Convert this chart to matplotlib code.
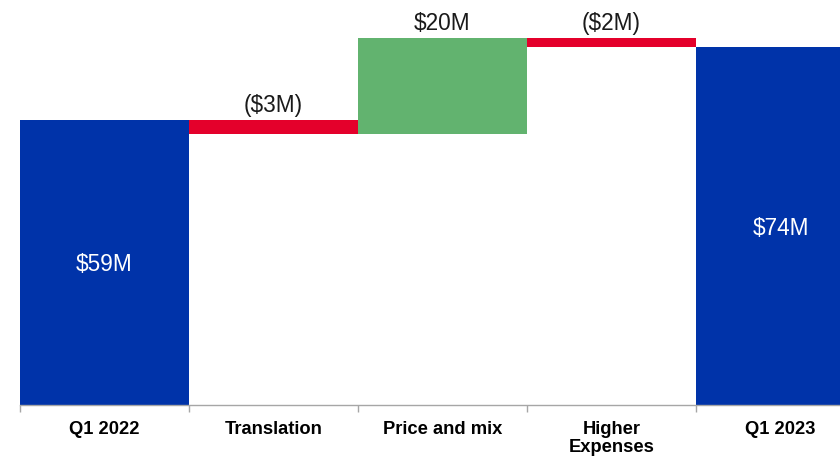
import matplotlib
matplotlib.use('Agg')
import matplotlib.pyplot as plt
import numpy as np

# waterfall data ($M)
categories = ['Q1 2022', 'Translation', 'Price and mix', 'Higher\nExpenses', 'Q1 2023']
values = [59, -3, 20, -2, 74]
is_total = [True, False, False, False, True]
value_labels = ['$59M', '($3M)', '$20M', '($2M)', '$74M']

blue = '#0033A9'
red = '#E4002B'
green = '#62B36F'

plt.rcParams['font.family'] = ['Liberation Sans', 'DejaVu Sans']

fig = plt.figure(figsize=(8.4, 4.58), dpi=100)
# axes runs a bit past the right edge of the figure, last bar is cut
ax = fig.add_axes([20/840, 53/458, 845/840, 405/458])

# compute bar bottoms / heights
running = 0
bottoms = []
heights = []
colors = []
for v, tot in zip(values, is_total):
   if tot:
      bottoms.append(0)
      heights.append(v)
      colors.append(blue)
      running = v
   else:
      start = running
      running = running + v
      bottoms.append(min(start, running))
      heights.append(abs(v))
      colors.append(green if v > 0 else red)

x = np.arange(len(categories))
ax.bar(x, heights, bottom=bottoms, width=1.0, color=colors, edgecolor='none')

# value labels: inside for totals, above for changes
for i in range(len(categories)):
   if is_total[i]:
      ax.text(x[i], bottoms[i] + heights[i]/2 - 0.4, value_labels[i], ha='center', va='center',
              color='white', fontsize=16.3)
   else:
      ax.text(x[i], bottoms[i] + heights[i] + 0.5, value_labels[i], ha='center', va='bottom',
              color='#1a1a1a', fontsize=16.3)

ax.set_xlim(-0.5, len(categories) - 0.5)
ax.set_ylim(0, 83.8)

# boundary ticks on axis, labels in the middle of each category
ax.set_xticks(np.arange(-0.5, len(categories), 1.0))
ax.set_xticklabels([])
ax.tick_params(axis='x', which='major', length=5, color='#A6A6A6', width=1)
ax.set_xticks(x, minor=True)
ax.set_xticklabels(categories, minor=True, fontsize=13.2, fontweight='bold', linespacing=1.1)
ax.tick_params(axis='x', which='minor', length=0, pad=11.5)

ax.set_yticks([])
for side in ['top', 'right', 'left']:
   ax.spines[side].set_visible(False)
ax.spines['bottom'].set_color('#A6A6A6')
ax.spines['bottom'].set_linewidth(1)

fig.savefig('out.png', dpi=100)
